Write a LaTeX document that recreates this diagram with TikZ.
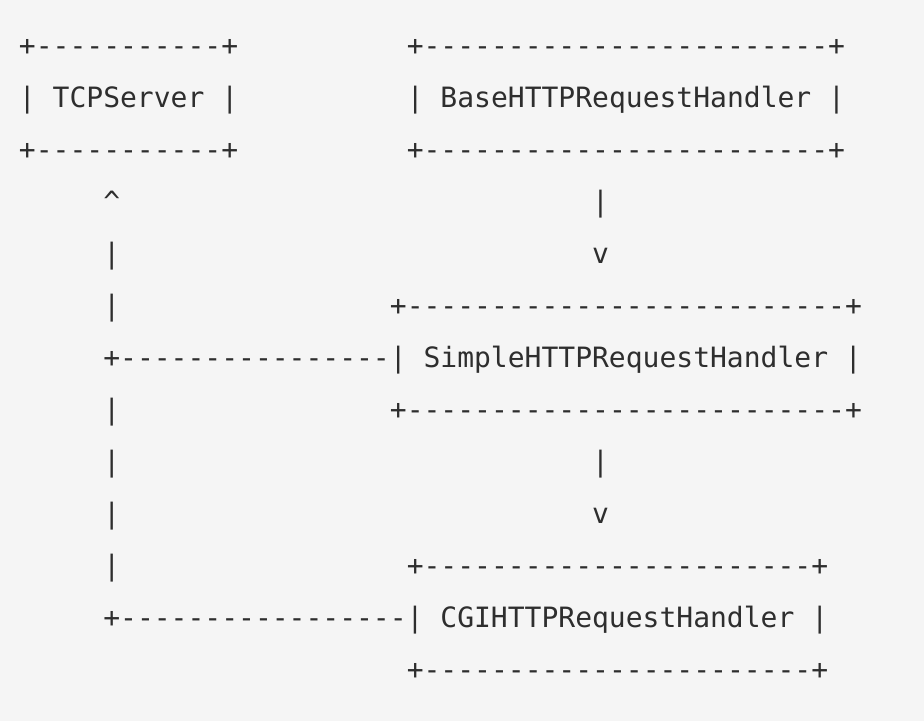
\documentclass[tikz,border=0pt]{standalone}
\usepackage{fontspec}
\setmonofont{DejaVu Sans Mono}
\definecolor{bg}{HTML}{F5F5F5}
\definecolor{ink}{HTML}{2E2E2E}
\newcommand\cw{16.86}
\newcommand\lh{52.08}
\newcommand\xo{19}
\newcommand\yo{55}
\newcommand\seg[4]{\node[txt] (#1) at ({\xo+#2*\cw},{\yo+#3*\lh}) {#4};}
\begin{document}
\begin{tikzpicture}[x=1pt,y=-1pt,
  txt/.style={anchor=base west,inner sep=0pt,outer sep=0pt,text=ink,
    font=\ttfamily\fontsize{28}{28}\selectfont}]
\fill[bg] (0,0) rectangle (924,721);
\useasboundingbox (0,0) rectangle (924,721);
% TCPServer box
\seg{tcpT}{0}{0}{+-----------+}
\seg{tcpM}{0}{1}{| TCPServer |}
\seg{tcpB}{0}{2}{+-----------+}
% BaseHTTPRequestHandler box
\seg{baseT}{23}{0}{+------------------------+}
\seg{baseM}{23}{1}{| BaseHTTPRequestHandler |}
\seg{baseB}{23}{2}{+------------------------+}
% arrow base -> simple
\seg{bs1}{34}{3}{|}
\seg{bs2}{34}{4}{v}
% SimpleHTTPRequestHandler box
\seg{simT}{22}{5}{+--------------------------+}
\seg{simM}{5}{6}{+----------------| SimpleHTTPRequestHandler |}
\seg{simB}{22}{7}{+--------------------------+}
% arrow simple -> cgi
\seg{sc1}{34}{8}{|}
\seg{sc2}{34}{9}{v}
% CGIHTTPRequestHandler box
\seg{cgiT}{23}{10}{+-----------------------+}
\seg{cgiM}{5}{11}{+-----------------| CGIHTTPRequestHandler |}
\seg{cgiB}{23}{12}{+-----------------------+}
% left trunk
\seg{up}{5}{3}{\textasciicircum}
\seg{v1}{5}{4}{|}
\seg{v2}{5}{5}{|}
\seg{v3}{5}{7}{|}
\seg{v4}{5}{8}{|}
\seg{v5}{5}{9}{|}
\seg{v6}{5}{10}{|}
\end{tikzpicture}
\end{document}
